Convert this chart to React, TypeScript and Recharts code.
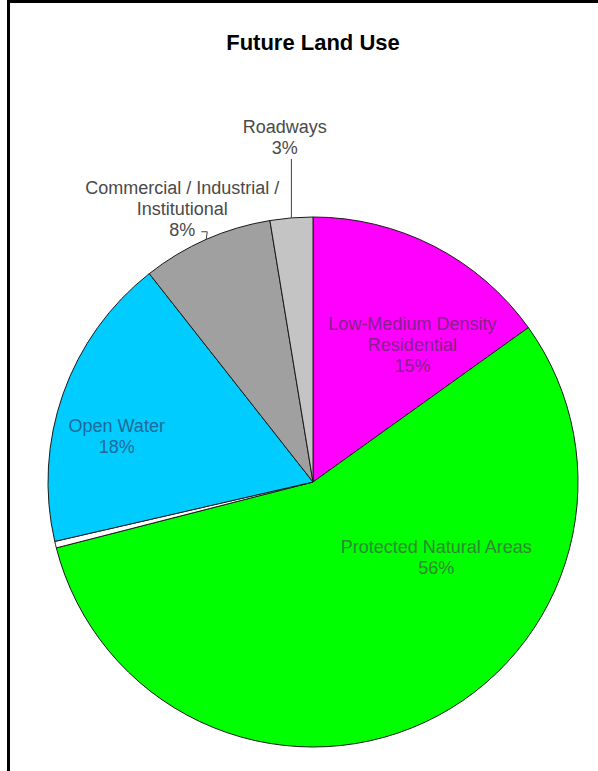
import { Cell, Pie, PieChart } from "recharts";

const categories = [
  "Low-Medium Density Residential",
  "Protected Natural Areas",
  "Other",
  "Open Water",
  "Commercial / Industrial / Institutional",
  "Roadways",
];

// share of total area, percent
const shares = [15.1, 55.9, 0.4, 18.0, 8.0, 2.6];

// how each label is broken over lines (empty = no label)
const labelLines = [
  ["Low-Medium Density", "Residential"],
  ["Protected Natural Areas"],
  [],
  ["Open Water"],
  ["Commercial / Industrial /", "Institutional"],
  ["Roadways"],
];

const COLORS = ["#FF00FF", "#00FF00", "#FFFFFF", "#00CCFF", "#A0A0A0", "#C4C4C4"];
const TEXT_COLORS = ["#86208A", "#2F8A2F", "#404040", "#1F6A99", "#4A4A4A", "#4A4A4A"];

// label placement: angle shift (deg) from slice middle, radius factor, leader style
const PLACEMENT = [
  { shift: -8.7, r: 0.64, leader: "" },
  { shift: 33.6, r: 0.545, leader: "" },
  { shift: 0, r: 0.6, leader: "" },
  { shift: 6.5, r: 0.76, leader: "" },
  { shift: 1.8, r: 1.143, leader: "elbow" },
  { shift: 0, r: 1.305, leader: "vertical" },
];

const data = categories.map((name, i) => ({ name, value: shares[i] }));

const FONT = "'Liberation Sans', Arial, sans-serif";
const LINE_H = 21;
const RAD = Math.PI / 180;

function renderLabel(props: any) {
  const { cx, cy, midAngle, outerRadius, index, percent } = props;
  const lines = labelLines[index];
  if (!lines.length) return null;
  const p = PLACEMENT[index];
  const a = (midAngle + p.shift) * RAD;
  const x = cx + outerRadius * p.r * Math.cos(a);
  const y = cy - outerRadius * p.r * Math.sin(a);
  const all = [...lines, `${Math.round(percent * 100)}%`];
  const top = y - ((all.length - 1) * LINE_H) / 2;
  const ex = cx + outerRadius * Math.cos(midAngle * RAD);
  const ey = cy - outerRadius * Math.sin(midAngle * RAD);
  const lastY = top + (all.length - 1) * LINE_H;
  let leader = null;
  if (p.leader === "vertical") {
    leader = <path d={`M${ex},${ey} L${ex},${lastY + 11}`} stroke="#404040" fill="none" />;
  } else if (p.leader === "elbow") {
    leader = (
      <path
        d={`M${ex},${ey} L${ex + 1},${lastY + 2} L${x + 19},${lastY + 2}`}
        stroke="#404040"
        fill="none"
      />
    );
  }
  return (
    <g>
      {leader}
      {all.map((t, k) => (
        <text
          key={k}
          x={x}
          y={top + k * LINE_H}
          textAnchor="middle"
          dominantBaseline="central"
          fontFamily={FONT}
          fontSize={18}
          fill={TEXT_COLORS[index]}
        >
          {t}
        </text>
      ))}
    </g>
  );
}

export default function App() {
  return (
    <div
      style={{
        position: "absolute",
        left: 0,
        top: 0,
        width: 598,
        height: 771,
        background: "#fff",
        overflow: "hidden",
      }}
    >
      <div style={{ position: "absolute", left: 7, top: 0, right: 0, height: 3, background: "#000" }} />
      <div style={{ position: "absolute", left: 7, top: 0, width: 3, bottom: 0, background: "#000" }} />
      <div
        style={{
          position: "absolute",
          left: 0,
          width: 626,
          top: 31,
          textAlign: "center",
          fontFamily: FONT,
          fontWeight: "bold",
          fontSize: 22,
          color: "#000",
          lineHeight: "24px",
        }}
      >
        Future Land Use
      </div>
      <div style={{ position: "absolute", left: 0, top: 0 }}>
        <PieChart width={598} height={771} margin={{ top: 0, right: 0, bottom: 0, left: 0 }}>
          <Pie
            data={data}
            dataKey="value"
            nameKey="name"
            cx={313}
            cy={482}
            outerRadius={265}
            startAngle={90}
            endAngle={-270}
            stroke="#1A1A1A"
            strokeWidth={1}
            label={renderLabel}
            labelLine={false}
            isAnimationActive={false}
          >
            {data.map((d, i) => (
              <Cell key={d.name} fill={COLORS[i]} />
            ))}
          </Pie>
        </PieChart>
      </div>
    </div>
  );
}
